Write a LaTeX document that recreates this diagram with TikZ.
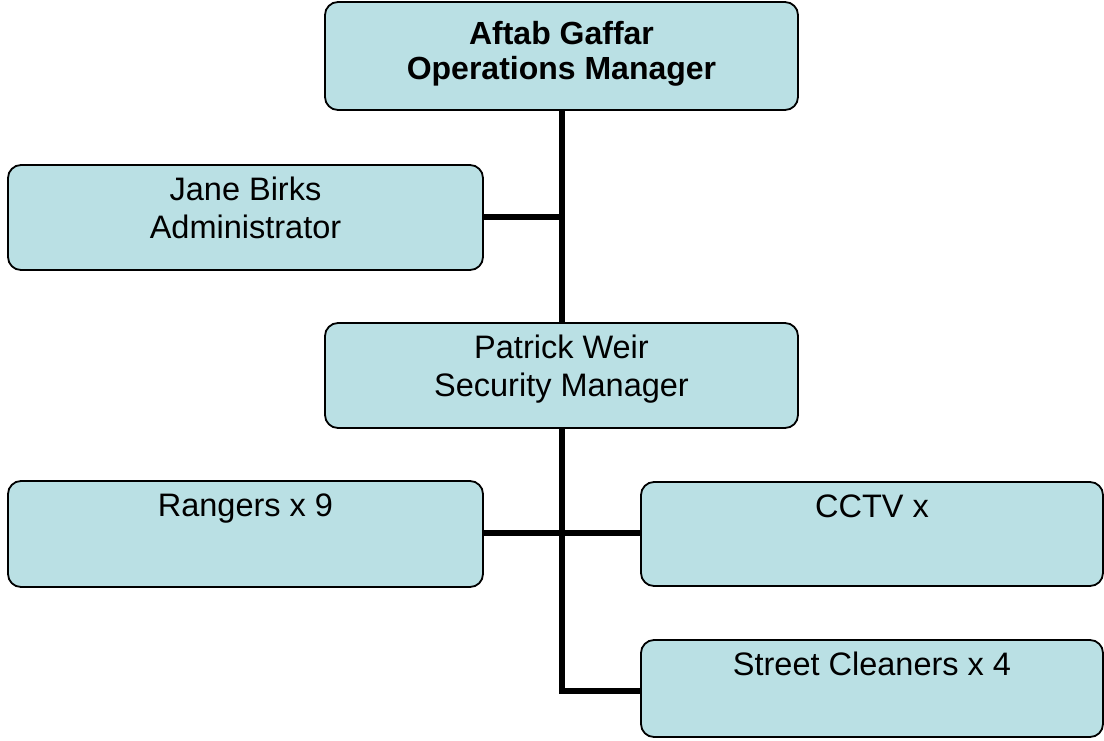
\documentclass[tikz,border=0pt]{standalone}
\usepackage{fontspec}
\setmainfont{Liberation Sans}
\definecolor{boxfill}{RGB}{186,224,228}
\begin{document}
\begin{tikzpicture}[x=1pt,y=-1pt,
  orgbox/.style={draw=black, line width=1.8pt, fill=boxfill, rounded corners=13pt, inner sep=0pt},
  lbl/.style={anchor=north, inner sep=0pt, align=center, font=\fontsize{32.5}{37.5}\selectfont},
  blbl/.style={anchor=north, inner sep=0pt, align=center, font=\fontsize{32}{35.5}\selectfont\bfseries},
  conn/.style={draw=black, line width=5.5pt}]
\useasboundingbox (0,0) rectangle (1104,740);
% boxes
\node[orgbox, minimum width=473pt, minimum height=108pt] (ops) at (561.5,56) {};
\node[orgbox, minimum width=475pt, minimum height=105pt] (jane) at (245.5,217.5) {};
\node[orgbox, minimum width=473pt, minimum height=105pt] (pat) at (561.5,375.5) {};
\node[orgbox, minimum width=475pt, minimum height=106pt] (rang) at (245.5,534) {};
\node[orgbox, minimum width=462pt, minimum height=104pt] (cctv) at (872,534) {};
\node[orgbox, minimum width=462pt, minimum height=97pt] (street) at (872,688.5) {};
% labels
\node[blbl] (opst) at ([yshift=-20pt]ops.north) {Aftab Gaffar\\Operations Manager};
\node[lbl] (janet) at ([yshift=-13pt]jane.north) {Jane Birks\\Administrator};
\node[lbl] (patt) at ([yshift=-13pt]pat.north) {Patrick Weir\\Security Manager};
\node[lbl] (rangt) at ([yshift=-13pt]rang.north) {Rangers x 9};
\node[lbl] (cctvt) at ([yshift=-13pt]cctv.north) {CCTV x};
\node[lbl] (streett) at ([yshift=-13pt]street.north) {Street Cleaners x 4};
% connector coordinates
\coordinate (tj) at (562,217);
\coordinate (tr) at (562,533);
\coordinate (ts) at (562,691);
% connectors
\draw[conn] (ops.south -| tj) -- (pat.north -| tj);
\draw[conn] (jane.east |- tj) -- (tj);
\draw[conn, line join=miter] (pat.south -| ts) -- (ts) -- (street.west |- ts);
\draw[conn] (rang.east |- tr) -- (cctv.west |- tr);
\end{tikzpicture}
\end{document}
